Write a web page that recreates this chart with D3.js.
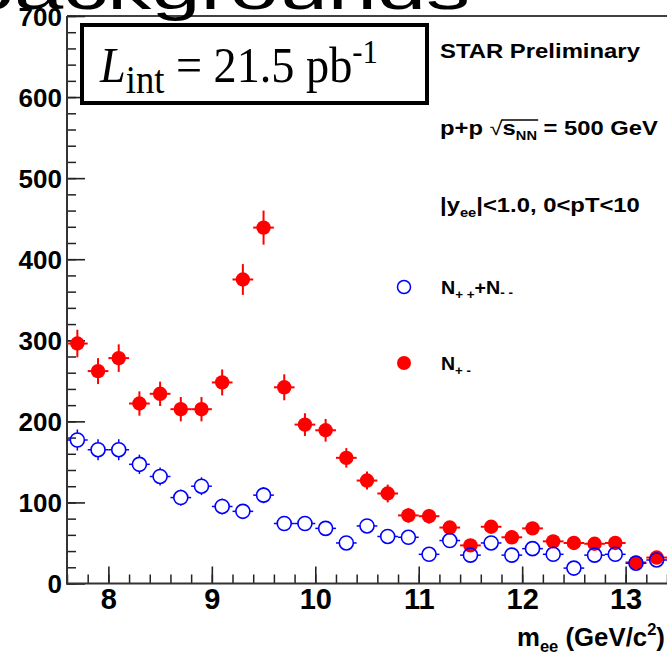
<!DOCTYPE html>
<html><head><meta charset="utf-8">
<script src="https://cdn.jsdelivr.net/npm/d3@7"></script>
<style>body{margin:0;background:#fff;overflow:hidden}svg{display:block}</style>
</head><body>
<svg id="c" width="667" height="656"></svg>
<script>
// ---- data ----
const mass = [7.7, 7.9, 8.1, 8.3, 8.5, 8.7, 8.9, 9.1, 9.3, 9.5,
              9.7, 9.9, 10.1, 10.3, 10.5, 10.7, 10.9, 11.1, 11.3, 11.5,
              11.7, 11.9, 12.1, 12.3, 12.5, 12.7, 12.9, 13.1, 13.3];
const unlikeSign = [296, 262, 278, 222, 234, 215, 215, 248, 375, 439,
                    242, 196, 189, 155, 127, 111, 84, 83, 69, 47,
                    70, 57, 68, 52, 50, 49, 50, 26, 32];
const unlikeErr = [17, 16, 17, 15, 15, 15, 15, 16, 19, 21,
                   16, 14, 14, 12, 11, 11, 9, 9, 8, 7,
                   8, 8, 8, 7, 7, 7, 7, 5, 6];
const likeSign = [177, 165, 165, 147, 132, 106, 120, 95, 89, 109,
                  74, 74, 68, 50, 71, 58, 57, 36, 53, 35,
                  50, 35, 43, 36, 19, 35, 36, 25, 29];
const likeErr = [13, 13, 13, 12, 11, 10, 11, 10, 9, 10,
                 9, 9, 8, 7, 8, 8, 8, 6, 7, 6,
                 7, 6, 7, 6, 4, 6, 6, 5, 5];
const binHalfWidth = 0.1;
const xTicks = [8, 9, 10, 11, 12, 13];
const yTicks = [0, 100, 200, 300, 400, 500, 600, 700];

// ---- layout ----
const SANS = "'Liberation Sans', Arial, Helvetica, sans-serif";
const SERIF = "'Liberation Serif', 'Times New Roman', serif";
const svg = d3.select('#c');
const x = d3.scaleLinear().domain([7.6, 13.4]).range([67, 667]);
const y = d3.scaleLinear().domain([0, 700]).range([583.5, 16]);

// helper: text group fitted to a target width
function fitted(x0, y0, targetW, build) {
  const g = svg.append('g');
  const t = g.append('text').attr('font-family', SANS).attr('font-weight', 'bold').attr('fill', '#000');
  build(t);
  const w = t.node().getComputedTextLength();
  g.attr('transform', `translate(${x0},${y0}) scale(${targetW / w},1)`);
  return t;
}

// big clipped title at top
svg.append('text').attr('x', 470).attr('y', 9).attr('text-anchor', 'end')
  .attr('font-family', SANS).attr('font-size', 58)
  .attr('transform', 'translate(470,0) scale(1.52,1) translate(-470,0)')
  .text('backgrounds');

// frame
svg.append('line').attr('x1', 67).attr('x2', 667).attr('y1', 16).attr('y2', 16)
  .attr('stroke', '#000').attr('stroke-width', 1.5);

// y axis
const gyMinor = svg.append('g').attr('transform', 'translate(67,0)')
  .call(d3.axisLeft(y).tickValues(y.ticks(35)).tickSize(-9).tickFormat(''));
gyMinor.select('.domain').remove();
gyMinor.selectAll('line').attr('stroke', '#222').attr('stroke-width', 1.5);
const gy = svg.append('g').attr('transform', 'translate(67,0)')
  .call(d3.axisLeft(y).tickValues(yTicks).tickSize(-18).tickPadding(5).tickFormat(d3.format('d')));
gy.attr('font-family', SANS).attr('font-size', 26);
gy.select('.domain').remove();
gy.selectAll('line').attr('stroke', '#222').attr('stroke-width', 1.6);
gy.selectAll('text').attr('font-weight', 'bold').attr('fill', '#000').attr('dy', '0.36em');

// x axis
const gxMinor = svg.append('g').attr('transform', 'translate(0,583.5)')
  .call(d3.axisBottom(x).tickValues(x.ticks(30)).tickSize(-9).tickFormat(''));
gxMinor.select('.domain').remove();
gxMinor.selectAll('line').attr('stroke', '#222').attr('stroke-width', 1.5);
const gx = svg.append('g').attr('transform', 'translate(0,583.5)')
  .call(d3.axisBottom(x).tickValues(xTicks).tickSize(-17).tickPadding(5).tickFormat(d3.format('d')));
gx.attr('font-family', SANS).attr('font-size', 29);
gx.select('.domain').remove();
gx.selectAll('line').attr('stroke', '#222').attr('stroke-width', 1.6);
gx.selectAll('text').attr('font-weight', 'bold').attr('fill', '#000').attr('dy', '0.71em');

// axis lines
svg.append('line').attr('x1', 67).attr('x2', 67).attr('y1', 16).attr('y2', 584.5)
  .attr('stroke', '#333').attr('stroke-width', 2);
svg.append('line').attr('x1', 66).attr('x2', 667).attr('y1', 583.5).attr('y2', 583.5)
  .attr('stroke', '#333').attr('stroke-width', 2);

// x axis title
fitted(517, 646, 148, t => {
  t.attr('font-size', 25);
  t.append('tspan').text('m');
  t.append('tspan').attr('font-size', 16).attr('dy', 6).text('ee');
  t.append('tspan').attr('dy', -6).text(' (GeV/c');
  t.append('tspan').attr('font-size', 16).attr('dy', -11).text('2');
  t.append('tspan').attr('dy', 11).text(')');
});

// ---- data marks ----
const pts = mass.map((m, i) => ({m, u: unlikeSign[i], ue: unlikeErr[i], l: likeSign[i], le: likeErr[i]}));
const RED = '#ff0000', BLUE = '#0000ff';
const gRed = svg.append('g');
gRed.selectAll('line.v').data(pts).join('line').attr('class', 'v')
  .attr('x1', d => x(d.m)).attr('x2', d => x(d.m))
  .attr('y1', d => y(d.u - d.ue)).attr('y2', d => y(d.u + d.ue))
  .attr('stroke', RED).attr('stroke-width', 2);
gRed.selectAll('line.h').data(pts).join('line').attr('class', 'h')
  .attr('x1', d => x(d.m - binHalfWidth)).attr('x2', d => x(d.m + binHalfWidth))
  .attr('y1', d => y(d.u)).attr('y2', d => y(d.u))
  .attr('stroke', RED).attr('stroke-width', 2);
gRed.selectAll('circle').data(pts).join('circle')
  .attr('cx', d => x(d.m)).attr('cy', d => y(d.u)).attr('r', 7.2).attr('fill', RED);

const R = 7;
const gBlue = svg.append('g').attr('stroke', BLUE).attr('stroke-width', 1.5).attr('fill', 'none');
pts.forEach(d => {
  const cx = x(d.m), cy = y(d.l);
  gBlue.append('line').attr('x1', x(d.m - binHalfWidth)).attr('y1', cy).attr('x2', cx - R).attr('y2', cy);
  gBlue.append('line').attr('x1', cx + R).attr('y1', cy).attr('x2', x(d.m + binHalfWidth)).attr('y2', cy);
  const top = y(d.l + d.le), bot = y(d.l - d.le);
  if (cy - top > R) {
    gBlue.append('line').attr('x1', cx).attr('y1', top).attr('x2', cx).attr('y2', cy - R);
    gBlue.append('line').attr('x1', cx).attr('y1', cy + R).attr('x2', cx).attr('y2', bot);
  }
});
gBlue.selectAll('circle').data(pts).join('circle')
  .attr('cx', d => x(d.m)).attr('cy', d => y(d.l)).attr('r', R).attr('stroke-width', 1.6);

// ---- luminosity box ----
svg.append('rect').attr('x', 82).attr('y', 25).attr('width', 345).attr('height', 78)
  .attr('fill', '#fff').attr('stroke', '#000').attr('stroke-width', 4);
{
  const g = svg.append('g');
  const t = g.append('text').attr('font-family', SERIF).attr('font-size', 48).attr('fill', '#000');
  t.append('tspan').attr('font-style', 'italic').text('L');
  t.append('tspan').attr('font-size', 38).attr('dy', 10).text('int');
  t.append('tspan').attr('dy', -10).text(' = 21.5 pb');
  t.append('tspan').attr('font-size', 32).attr('dy', -18).text('-1');
  const w = t.node().getComputedTextLength();
  g.attr('transform', `translate(100,82) scale(${278 / w},1.06)`);
}

// ---- right-hand labels ----
fitted(440, 57.5, 200, t => { t.attr('font-size', 19.5).text('STAR Preliminary'); });
{
  const t = fitted(440, 135, 218, t => {
    t.attr('font-size', 19.5);
    t.append('tspan').text('p+p ');
    t.append('tspan').attr('font-weight', 'normal').text('\u221A');
    t.append('tspan').text('s');
    t.append('tspan').attr('font-size', 12).attr('dy', 5).text('NN');
    t.append('tspan').attr('dy', -5).text(' = 500 GeV');
  });
  const n = t.node();
  const a = n.getStartPositionOfChar(5).x, b = n.getEndPositionOfChar(7).x;
  d3.select(n.parentNode).append('line').attr('x1', a - 1).attr('x2', b + 1)
    .attr('y1', -15).attr('y2', -15).attr('stroke', '#000').attr('stroke-width', 1.3);
}
fitted(440, 212, 200, t => {
  t.attr('font-size', 19.5);
  t.append('tspan').text('|y');
  t.append('tspan').attr('font-size', 12).attr('dy', 5).text('ee');
  t.append('tspan').attr('dy', -5).text('|<1.0, 0<pT<10');
});

// legend
svg.append('circle').attr('cx', 404).attr('cy', 287).attr('r', 6.5)
  .attr('fill', 'none').attr('stroke', BLUE).attr('stroke-width', 1.5);
svg.append('circle').attr('cx', 404).attr('cy', 363).attr('r', 7).attr('fill', RED);
fitted(441, 294, 72, t => {
  t.attr('font-size', 19);
  t.append('tspan').text('N');
  t.append('tspan').attr('font-size', 13).attr('dy', 5).text('+ +');
  t.append('tspan').attr('dy', -5).text('+N');
  t.append('tspan').attr('font-size', 13).attr('dy', 3).text('- -');
});
fitted(441, 369.5, 30, t => {
  t.attr('font-size', 19);
  t.append('tspan').text('N');
  t.append('tspan').attr('font-size', 13).attr('dy', 5).text('+ -');
});
</script>
</body></html>
